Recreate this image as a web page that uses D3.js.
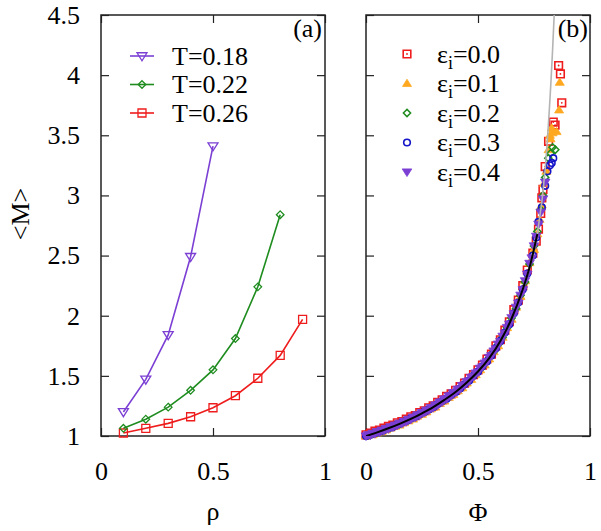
<!DOCTYPE html>
<html><head><meta charset="utf-8">
<script src="https://cdn.jsdelivr.net/npm/d3@7"></script>
<style>body{margin:0;background:#fff}svg{display:block}svg text{font-family:"Liberation Serif","Times New Roman",Times,"DejaVu Serif",serif !important;fill:#000}</style>
</head><body><svg id="c" width="601" height="531"></svg>
<script>
// ---------- Panel (a) data ----------
const rho18 = [0.1,0.2,0.3,0.4,0.5];
const M18   = [1.20,1.47,1.84,2.49,3.41];
const rho22 = [0.1,0.2,0.3,0.4,0.5,0.6,0.7,0.8];
const M22   = [1.064,1.14,1.24,1.38,1.55,1.81,2.24,2.84];
const rho26 = [0.1,0.2,0.3,0.4,0.5,0.6,0.7,0.8,0.9];
const M26   = [1.025,1.064,1.105,1.16,1.235,1.335,1.48,1.67,1.97];
const legendA = ["T=0.18","T=0.22","T=0.26"];

// ---------- Panel (b) data ----------
const phiE0 = [0.00,0.02,0.04,0.06,0.08,0.10,0.12,0.14,0.16,0.18,0.20,0.22,0.24,0.26,0.28,0.30,0.32,0.34,0.36,0.38,0.40,0.42,0.44,0.46,0.48,0.50,0.52,0.54,0.56,0.58,0.60,0.62,0.64,0.66,0.68,0.70,0.72,
  0.745,0.76,0.77,0.78,0.785,0.79,0.80,0.815,0.836,0.844,0.86,0.868,0.874];
const mE0 = [1.01,1.025,1.04,1.05,1.065,1.08,1.09,1.11,1.12,1.14,1.16,1.17,1.195,1.21,1.235,1.25,1.28,1.30,1.33,1.35,1.38,1.41,1.44,1.48,1.51,1.55,1.59,1.64,1.68,1.75,1.80,1.88,1.95,2.05,2.13,2.25,2.38,
  2.52,2.62,2.72,2.85,2.98,3.05,3.24,3.45,3.61,3.585,4.08,4.01,3.77];
const phiE1 = [0.00,0.03,0.05,0.07,0.09,0.11,0.13,0.15,0.17,0.19,0.21,0.23,0.25,0.27,0.29,0.31,0.33,0.35,0.37,0.39,0.41,0.43,0.45,0.47,0.49,0.51,0.53,0.55,0.57,0.59,0.61,0.63,0.65,0.67,0.69,0.71,0.73,
  0.75,0.765,0.775,0.785,0.795,0.805,0.815,0.821,0.824,0.829,0.833,0.851,0.862,0.865];
const mE1 = [1.0,1.01,1.025,1.035,1.05,1.065,1.08,1.09,1.11,1.125,1.14,1.165,1.18,1.20,1.225,1.24,1.27,1.29,1.32,1.345,1.375,1.40,1.44,1.47,1.51,1.55,1.59,1.64,1.70,1.75,1.82,1.90,1.97,2.07,2.16,2.29,2.44,
  2.55,2.68,2.80,2.92,3.10,3.20,3.38,3.50,3.47,3.56,3.52,3.53,3.71,3.94];
const phiE2 = [0.01,0.03,0.05,0.07,0.09,0.11,0.13,0.15,0.17,0.19,0.21,0.23,0.25,0.27,0.29,0.31,0.33,0.35,0.37,0.39,0.41,0.43,0.45,0.47,0.49,0.51,0.53,0.55,0.57,0.59,0.61,0.63,0.65,0.67,0.69,0.71,0.73,
  0.75,0.765,0.78,0.79,0.80,0.814,0.824,0.833,0.845];
const mE2 = [1.005,1.02,1.03,1.045,1.06,1.07,1.09,1.10,1.12,1.135,1.15,1.17,1.19,1.21,1.23,1.255,1.275,1.30,1.325,1.355,1.38,1.415,1.445,1.48,1.52,1.555,1.60,1.65,1.70,1.76,1.82,1.90,1.98,2.06,2.17,2.28,2.43,
  2.58,2.70,2.88,3.00,3.15,3.31,3.35,3.40,3.38];
const phiE3 = [0.00,0.02,0.04,0.06,0.08,0.10,0.12,0.14,0.16,0.18,0.20,0.22,0.24,0.26,0.28,0.30,0.32,0.34,0.36,0.38,0.40,0.42,0.44,0.46,0.48,0.50,0.52,0.54,0.56,0.58,0.60,0.62,0.64,0.66,0.68,0.70,0.72,
  0.745,0.76,0.77,0.785,0.80,0.81,0.821,0.829,0.836];
const mE3 = [1.0,1.01,1.025,1.035,1.05,1.065,1.075,1.095,1.11,1.125,1.145,1.16,1.18,1.20,1.22,1.24,1.265,1.29,1.31,1.34,1.365,1.395,1.43,1.46,1.50,1.535,1.58,1.62,1.67,1.73,1.79,1.86,1.93,2.02,2.11,2.22,2.35,
  2.50,2.65,2.78,2.90,3.08,3.20,3.25,3.27,3.31];
const phiE4 = [0.00,0.01,0.02,0.03,0.04,0.05,0.06,0.07,0.08,0.09,0.10,0.11,0.12,0.13,0.14,0.15,0.16,0.17,0.18,0.19,0.20,0.21,0.22,0.23,0.24,0.25,0.26,0.27,0.28,0.29,0.30,0.31,0.32,0.33,0.34,0.35,0.36,0.37,0.38,0.39,0.40,0.41,0.42,0.43,0.44,0.45,0.46,0.47,0.48,0.49,0.50,0.51,0.52,0.53,0.54,0.55,0.56,0.57,0.58,0.59,0.60,0.61,0.62,0.63,0.64,0.65,0.66,0.67,0.68,0.69,0.70,0.71,0.72,0.73,
  0.74,0.75,0.76,0.77,0.78,0.79,0.80];
const mE4 = [1.000,1.010,1.008,1.022,1.020,1.036,1.033,1.048,1.046,1.062,1.060,1.076,1.074,1.090,1.090,1.106,1.104,1.122,1.120,1.138,1.138,1.156,1.155,1.175,1.174,1.194,1.195,1.214,1.215,1.235,1.236,1.257,1.258,1.281,1.283,1.306,1.309,1.332,1.335,1.359,1.362,1.387,1.392,1.418,1.424,1.451,1.458,1.486,1.494,1.523,1.532,1.563,1.574,1.606,1.618,1.653,1.668,1.706,1.724,1.764,1.785,1.829,1.854,1.902,1.93,1.983,2.015,2.07,2.105,2.17,2.215,2.29,2.345,2.435,
  2.48,2.58,2.66,2.76,2.86,2.97,3.11];
const legendB = ["0.0","0.1","0.2","0.3","0.4"];

// fitted curves
const fitPhi = [0,0.05,0.10,0.15,0.20,0.25,0.30,0.35,0.40,0.45,0.50,0.55,0.60,0.65,0.70,0.73,0.765];
const fitM   = [1,1.03,1.064,1.101,1.142,1.189,1.240,1.300,1.366,1.445,1.536,1.647,1.789,1.977,2.22,2.40,2.68];
const grayPhi = [0.70,0.73,0.765,0.80,0.833,0.845];
const grayM   = [2.22,2.40,2.68,3.22,4.21,4.70];

const xTicks = [0,0.5,1];
const yTicks = [1,1.5,2,2.5,3,3.5,4,4.5];

// ---------- drawing ----------
const FONT = '"Liberation Serif","Times New Roman",Times,"DejaVu Serif",serif';
const C = {purple:"#7b3fd4", green:"#1e8c1e", red:"#ee1c1c", orange:"#ffa820", blue:"#1414c8", gray:"#b4b4b4"};
const svg = d3.select("#c");
const top_=15, bot=436;
const y = d3.scaleLinear().domain([1,4.5]).range([bot,top_]);
const xa = d3.scaleLinear().domain([0,1]).range([101,325]);
const xb = d3.scaleLinear().domain([0,1]).range([366,590]);

const sq = s=>`M${-s},${-s}H${s}V${s}H${-s}Z`;
const triD = s=>`M${-s},${-s*0.65}L${s},${-s*0.65}L0,${s*0.95}Z`;
const triU = s=>`M${-s},${s*0.65}L${s},${s*0.65}L0,${-s*0.95}Z`;
const dia = s=>`M0,${-s}L${s},0L0,${s}L${-s},0Z`;

function frame(x, labels){
  const g = svg.append("g");
  const fmt = d=>String(d);
  g.append("g").attr("transform",`translate(${x.range()[0]},0)`)
    .call(d3.axisLeft(y).tickValues(yTicks).tickSizeInner(-8).tickSizeOuter(0).tickPadding(21).tickFormat(labels?fmt:""));
  g.append("g").attr("transform",`translate(${x.range()[1]},0)`)
    .call(d3.axisRight(y).tickValues(yTicks).tickSizeInner(-8).tickSizeOuter(0).tickFormat(""));
  g.append("g").attr("transform",`translate(0,${bot})`)
    .call(d3.axisBottom(x).tickValues(xTicks).tickSizeInner(-8).tickSizeOuter(0).tickPadding(26).tickFormat(fmt));
  g.append("g").attr("transform",`translate(0,${top_})`)
    .call(d3.axisTop(x).tickValues(xTicks).tickSizeInner(-8).tickSizeOuter(0).tickFormat(""));
  g.selectAll(".domain").remove();
  g.selectAll("g").attr("font-family",FONT);
  g.selectAll(".tick line").attr("stroke","#222").attr("stroke-width",1.2);
  g.selectAll(".tick text").attr("font-size",26).attr("font-family",FONT).attr("fill","#000");
  g.append("rect").attr("x",x.range()[0]).attr("y",top_).attr("width",x.range()[1]-x.range()[0]).attr("height",bot-top_)
    .attr("fill","none").attr("stroke","#222").attr("stroke-width",1.5);
}
frame(xa,true);
frame(xb,false);

svg.append("clipPath").attr("id","cb").append("rect").attr("x",366).attr("y",top_).attr("width",224).attr("height",bot-top_);

// panel (a)
const seriesA = [
  {x:rho18,m:M18,c:C.purple,shape:triD,s:5},
  {x:rho22,m:M22,c:C.green,shape:dia,s:3.8},
  {x:rho26,m:M26,c:C.red,shape:sq,s:4}
];
const line = d3.line().x(d=>d[0]).y(d=>d[1]);
seriesA.slice().reverse().forEach(S=>{
  const pts = S.x.map((v,i)=>[xa(v),y(S.m[i])]);
  svg.append("path").attr("d",line(pts)).attr("fill","none").attr("stroke",S.c).attr("stroke-width",1.6);
  svg.append("g").selectAll("path").data(pts).join("path")
    .attr("transform",d=>`translate(${d[0]},${d[1]})`).attr("d",S.shape(S.s))
    .attr("fill","none").attr("stroke",S.c).attr("stroke-width",1.3);
});
function txt(x,yy,s,anchor){
  return svg.append("text").attr("x",x).attr("y",yy).attr("font-size",26).attr("font-family",FONT)
    .attr("text-anchor",anchor||"start").text(s);
}
seriesA.forEach((S,i)=>{
  const yy = [56,84.5,113][i];
  svg.append("line").attr("x1",130).attr("x2",154).attr("y1",yy).attr("y2",yy).attr("stroke",S.c).attr("stroke-width",1.6);
  svg.append("path").attr("transform",`translate(142,${yy})`).attr("d",S.shape(S.s)).attr("fill","none").attr("stroke",S.c).attr("stroke-width",1.3);
  txt(172,yy+8.5,legendA[i]);
});
txt(322,37,"(a)","end");

// panel (b)
const seriesB = [
  {x:phiE0,m:mE0,c:C.red,type:"sq"},
  {x:phiE1,m:mE1,c:C.orange,type:"triU"},
  {x:phiE2,m:mE2,c:C.green,type:"dia"},
  {x:phiE3,m:mE3,c:C.blue,type:"circ"},
  {x:phiE4,m:mE4,c:C.purple,type:"triD"}
];
function drawMarker(g,type,c){
  if(type==="sq"){
    g.append("path").attr("d",sq(3.8)).attr("fill","none").attr("stroke",c).attr("stroke-width",1.6);
    g.append("circle").attr("r",0.9).attr("fill",c);
  } else if(type==="triU"){
    g.append("path").attr("d",triU(4.5)).attr("fill",c).attr("stroke",c).attr("stroke-width",0.8);
  } else if(type==="dia"){
    g.append("path").attr("d",dia(3.6)).attr("fill","none").attr("stroke",c).attr("stroke-width",1.5);
  } else if(type==="circ"){
    g.append("circle").attr("r",3.3).attr("fill","none").attr("stroke",c).attr("stroke-width",1.6);
  } else {
    g.append("path").attr("d",triD(4.8)).attr("fill",c).attr("stroke",c).attr("stroke-width",0.8);
  }
}
const gb = svg.append("g");
seriesB.forEach(S=>{
  S.x.forEach((v,i)=>{
    const g = gb.append("g").attr("transform",`translate(${xb(v)},${y(S.m[i])})`);
    drawMarker(g,S.type,S.c);
  });
});
const curve = d3.line().x(d=>xb(d[0])).y(d=>y(d[1])).curve(d3.curveMonotoneX);
svg.append("path").attr("clip-path","url(#cb)").attr("d",curve(grayPhi.map((v,i)=>[v,grayM[i]])))
  .attr("fill","none").attr("stroke",C.gray).attr("stroke-width",1.6);
svg.append("path").attr("clip-path","url(#cb)").attr("d",curve(fitPhi.map((v,i)=>[v,fitM[i]])))
  .attr("fill","none").attr("stroke","#000").attr("stroke-width",2);

seriesB.forEach((S,i)=>{
  const yy = [54,83.5,113,142.5,172][i];
  drawMarker(svg.append("g").attr("transform",`translate(407,${yy})`),S.type,S.c);
  const t = txt(437,yy+8.5,"");
  t.append("tspan").text("ε");
  t.append("tspan").attr("font-size",18).attr("dy",6).text("i");
  t.append("tspan").attr("dy",-6).text("="+legendB[i]);
});
txt(588,37,"(b)","end");

txt(213,520,"ρ","middle");
txt(478,521,"Φ","middle");
svg.append("text").attr("transform","translate(29,214) rotate(-90)").attr("font-size",26).attr("font-family",FONT)
  .attr("text-anchor","middle").text("<M>");
</script></body></html>
